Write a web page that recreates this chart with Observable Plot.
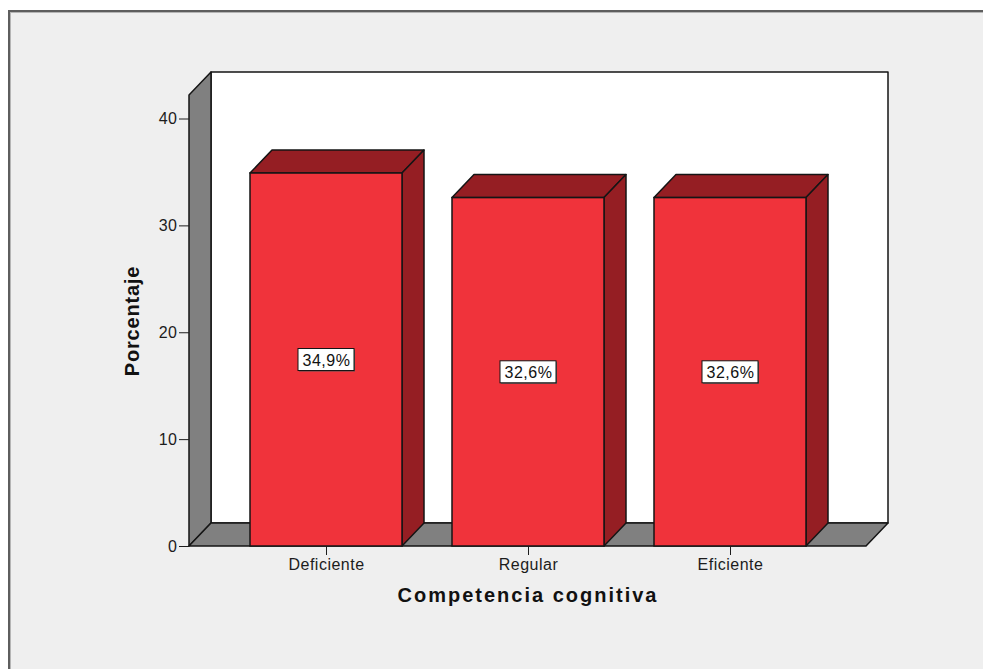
<!DOCTYPE html>
<html>
<head>
<meta charset="utf-8">
<script src="https://cdn.jsdelivr.net/npm/d3@7"></script>
<script src="https://cdn.jsdelivr.net/npm/@observablehq/plot@0.6"></script>
<style>
  html, body { margin: 0; padding: 0; background: #ffffff; width: 983px; height: 669px; overflow: hidden; }
  #panel { position: absolute; left: 8px; top: 10px; width: 1100px; height: 800px; background: #efefef;
           border-left: 2px solid #5e5e5e; border-top: 2px solid #5e5e5e; box-shadow: inset 1px 1px 0 #b5b5b5; }
  #chart { position: absolute; left: 0; top: 0; }
  #chart svg { background: transparent; }
</style>
</head>
<body>
<div id="panel"></div>
<div id="chart"></div>
<script>
// Percentage of respondents per level of cognitive competence
const categories = ["Deficiente", "Regular", "Eficiente"];
const percentages = [34.9, 32.6, 32.6];
const yTicks = [0, 10, 20, 30, 40];
const yMax = 42.2;
const xTitle = "Competencia cognitiva";
const yTitle = "Porcentaje";

const data = categories.map((category, i) => ({category, value: percentages[i]}));
const formatPct = (v) => d3.format(".1f")(v).replace(".", ",") + "%";

// 3D look: depth offset of walls and bars, in pixels
const DX = 22, DY = 23;
const RED = "#f0333b", RED_DARK = "#951e23", WALL = "#808080", EDGE = "#151515";

// Back wall, left wall and floor around the plotting frame
function walls(index, scales, values, dims) {
  const x0 = dims.marginLeft, x1 = dims.width - dims.marginRight;
  const yT = dims.marginTop, yB = dims.height - dims.marginBottom;
  const g = d3.create("svg:g")
    .attr("stroke", EDGE).attr("stroke-width", 1.5).attr("stroke-linejoin", "round");
  g.append("path").attr("fill", "#ffffff")
    .attr("d", `M${x0 + DX},${yT - DY}H${x1 + DX}V${yB - DY}H${x0 + DX}Z`);
  g.append("path").attr("fill", WALL)
    .attr("d", `M${x0},${yT}L${x0 + DX},${yT - DY}V${yB - DY}L${x0},${yB}Z`);
  g.append("path").attr("fill", WALL)
    .attr("d", `M${x0},${yB}L${x0 + DX},${yB - DY}H${x1 + DX}L${x1},${yB}Z`);
  return g.node();
}

// Top and right side faces of each bar
function barFaces(index, scales) {
  const x = scales.x, y = scales.y;
  const bw = x.bandwidth();
  const g = d3.create("svg:g")
    .attr("fill", RED_DARK).attr("stroke", EDGE).attr("stroke-width", 1.5).attr("stroke-linejoin", "round");
  for (const d of data) {
    const l = x(d.category), r = l + bw, t = y(d.value), b = y(0);
    g.append("path").attr("d", `M${l},${t}L${l + DX},${t - DY}H${r + DX}L${r},${t}Z`);
    g.append("path").attr("d", `M${r},${t}L${r + DX},${t - DY}V${b - DY}L${r},${b}Z`);
  }
  return g.node();
}

// White boxes behind the value labels
function labelBoxes(index, scales) {
  const x = scales.x, y = scales.y;
  const bw = x.bandwidth();
  const g = d3.create("svg:g");
  for (const d of data) {
    const cx = x(d.category) + bw / 2, cy = y(d.value / 2);
    g.append("rect").attr("x", cx - 27).attr("y", cy - 10).attr("width", 56).attr("height", 22)
      .attr("fill", "#555");
    g.append("rect").attr("x", cx - 28).attr("y", cy - 11).attr("width", 56).attr("height", 22)
      .attr("fill", "#ffffff").attr("stroke", EDGE).attr("stroke-width", 1);
  }
  return g.node();
}

const plot = Plot.plot({
  width: 983,
  height: 669,
  marginLeft: 189,
  marginRight: 117,
  marginTop: 95,
  marginBottom: 123,
  style: {fontFamily: "'Liberation Sans', Arial, sans-serif", fontSize: "16px", color: "#1c1c1c", background: "transparent", overflow: "visible"},
  x: {type: "band", domain: categories, paddingInner: 0.25, paddingOuter: 0.2925, label: null},
  y: {domain: [0, yMax], label: null},
  marks: [
    walls,
    barFaces,
    Plot.barY(data, {x: "category", y: "value", fill: RED, stroke: EDGE, strokeWidth: 1.5}),
    labelBoxes,
    Plot.text(data, {x: "category", y: (d) => d.value / 2, text: (d) => formatPct(d.value),
      fill: "#111", fontSize: 16, dy: 1}),
    Plot.axisY(yTicks, {tickSize: 10, tickPadding: 2, fontSize: 16}),
    Plot.axisX({tickSize: 9, tickPadding: 3, fontSize: 16}),
    Plot.text([yTitle], {frameAnchor: "left", textAnchor: "middle", dx: -57, rotate: -90, fontSize: 20, fontWeight: "bold", fill: "#111"}),
    Plot.text([xTitle], {frameAnchor: "bottom", dy: 55, fontSize: 20, fontWeight: "bold", fill: "#111"})
  ]
});

d3.select(plot).selectAll("text").each(function () {
  const s = this.textContent;
  if (s === xTitle) this.setAttribute("letter-spacing", "2px");
  else if (s === yTitle) this.setAttribute("letter-spacing", "0.8px");
  else this.setAttribute("letter-spacing", "0.5px");
});

document.getElementById("chart").appendChild(plot);
</script>
</body>
</html>
